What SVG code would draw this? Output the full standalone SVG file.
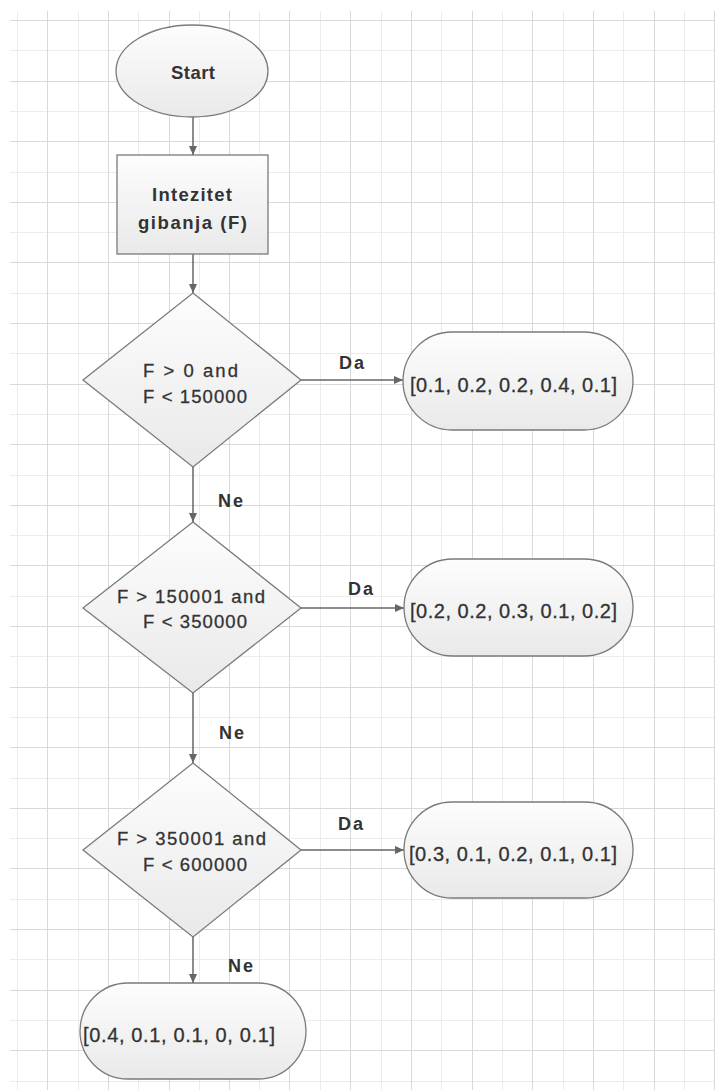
<svg xmlns="http://www.w3.org/2000/svg" width="715" height="1090" viewBox="0 0 715 1090">
<style>
.gM{stroke:#d9d9d9;stroke-width:1}
.gm{stroke:#ececec;stroke-width:1}
.shape{fill:url(#fillG);stroke:#7a7a7a;stroke-width:1.3}
.conn{stroke:#666;stroke-width:1.5;fill:none;marker-end:url(#arrow)}
text{font-family:"Liberation Sans",Arial,sans-serif;fill:#333}
.t{font-size:18.5px;stroke:#333;stroke-width:0.3}
.tb{font-size:18.5px;font-weight:bold}
.v{font-size:20px;stroke:#333;stroke-width:0.3}
.lbl{font-size:18px;font-weight:bold}
</style>
<defs>
<linearGradient id="fillG" x1="0" y1="0" x2="0" y2="1">
<stop offset="0" stop-color="#fdfdfd"/>
<stop offset="1" stop-color="#e9e9e9"/>
</linearGradient>
<marker id="arrow" markerUnits="userSpaceOnUse" markerWidth="9" markerHeight="8" refX="9" refY="4" orient="auto">
<path d="M0,0 L9,4 L0,8 z" fill="#666"/>
</marker>
</defs>
<rect width="715" height="1090" fill="#fff"/>
<g id="grid">
<g class="gm">
<line x1="17.5" y1="11" x2="17.5" y2="1090"/>
<line x1="78.5" y1="11" x2="78.5" y2="1090"/>
<line x1="138.5" y1="11" x2="138.5" y2="1090"/>
<line x1="199.5" y1="11" x2="199.5" y2="1090"/>
<line x1="259.5" y1="11" x2="259.5" y2="1090"/>
<line x1="320.5" y1="11" x2="320.5" y2="1090"/>
<line x1="381.5" y1="11" x2="381.5" y2="1090"/>
<line x1="441.5" y1="11" x2="441.5" y2="1090"/>
<line x1="502.5" y1="11" x2="502.5" y2="1090"/>
<line x1="563.5" y1="11" x2="563.5" y2="1090"/>
<line x1="623.5" y1="11" x2="623.5" y2="1090"/>
<line x1="684.5" y1="11" x2="684.5" y2="1090"/>
<line x1="10" y1="50.5" x2="715" y2="50.5"/>
<line x1="10" y1="111.5" x2="715" y2="111.5"/>
<line x1="10" y1="172.5" x2="715" y2="172.5"/>
<line x1="10" y1="232.5" x2="715" y2="232.5"/>
<line x1="10" y1="293.5" x2="715" y2="293.5"/>
<line x1="10" y1="353.5" x2="715" y2="353.5"/>
<line x1="10" y1="414.5" x2="715" y2="414.5"/>
<line x1="10" y1="475.5" x2="715" y2="475.5"/>
<line x1="10" y1="535.5" x2="715" y2="535.5"/>
<line x1="10" y1="596.5" x2="715" y2="596.5"/>
<line x1="10" y1="656.5" x2="715" y2="656.5"/>
<line x1="10" y1="717.5" x2="715" y2="717.5"/>
<line x1="10" y1="778.5" x2="715" y2="778.5"/>
<line x1="10" y1="838.5" x2="715" y2="838.5"/>
<line x1="10" y1="899.5" x2="715" y2="899.5"/>
<line x1="10" y1="959.5" x2="715" y2="959.5"/>
<line x1="10" y1="1020.5" x2="715" y2="1020.5"/>
<line x1="10" y1="1081.5" x2="715" y2="1081.5"/>
</g>
<g class="gM">
<line x1="47.5" y1="11" x2="47.5" y2="1090"/>
<line x1="108.5" y1="11" x2="108.5" y2="1090"/>
<line x1="169.5" y1="11" x2="169.5" y2="1090"/>
<line x1="229.5" y1="11" x2="229.5" y2="1090"/>
<line x1="289.5" y1="11" x2="289.5" y2="1090"/>
<line x1="350.5" y1="11" x2="350.5" y2="1090"/>
<line x1="411.5" y1="11" x2="411.5" y2="1090"/>
<line x1="472.5" y1="11" x2="472.5" y2="1090"/>
<line x1="532.5" y1="11" x2="532.5" y2="1090"/>
<line x1="593.5" y1="11" x2="593.5" y2="1090"/>
<line x1="654.5" y1="11" x2="654.5" y2="1090"/>
<line x1="714.5" y1="11" x2="714.5" y2="1090"/>
<line x1="10" y1="20.5" x2="715" y2="20.5"/>
<line x1="10" y1="81.5" x2="715" y2="81.5"/>
<line x1="10" y1="141.5" x2="715" y2="141.5"/>
<line x1="10" y1="202.5" x2="715" y2="202.5"/>
<line x1="10" y1="262.5" x2="715" y2="262.5"/>
<line x1="10" y1="323.5" x2="715" y2="323.5"/>
<line x1="10" y1="384.5" x2="715" y2="384.5"/>
<line x1="10" y1="444.5" x2="715" y2="444.5"/>
<line x1="10" y1="505.5" x2="715" y2="505.5"/>
<line x1="10" y1="565.5" x2="715" y2="565.5"/>
<line x1="10" y1="626.5" x2="715" y2="626.5"/>
<line x1="10" y1="687.5" x2="715" y2="687.5"/>
<line x1="10" y1="747.5" x2="715" y2="747.5"/>
<line x1="10" y1="808.5" x2="715" y2="808.5"/>
<line x1="10" y1="868.5" x2="715" y2="868.5"/>
<line x1="10" y1="929.5" x2="715" y2="929.5"/>
<line x1="10" y1="990.5" x2="715" y2="990.5"/>
<line x1="10" y1="1050.5" x2="715" y2="1050.5"/>
</g>
</g>
<g id="connectors">
<line class="conn" x1="193" y1="117" x2="193" y2="155"/>
<line class="conn" x1="193" y1="254" x2="193" y2="293"/>
<line class="conn" x1="301" y1="380" x2="403" y2="380"/>
<line class="conn" x1="193" y1="467" x2="193" y2="522"/>
<line class="conn" x1="301" y1="608" x2="404" y2="608"/>
<line class="conn" x1="193" y1="693" x2="193" y2="763"/>
<line class="conn" x1="301" y1="850" x2="404" y2="850"/>
<line class="conn" x1="193" y1="937" x2="193" y2="983"/>
<text class="lbl" x="339" y="369" textLength="25" lengthAdjust="spacing">Da</text>
<text class="lbl" x="348" y="595" textLength="25" lengthAdjust="spacing">Da</text>
<text class="lbl" x="338" y="830" textLength="25" lengthAdjust="spacing">Da</text>
<text class="lbl" x="218" y="507" textLength="25" lengthAdjust="spacing">Ne</text>
<text class="lbl" x="219" y="739" textLength="25" lengthAdjust="spacing">Ne</text>
<text class="lbl" x="228" y="972" textLength="25" lengthAdjust="spacing">Ne</text>
</g>
<g id="start">
<ellipse class="shape" cx="192" cy="71" rx="76" ry="46"/>
<text class="tb" x="171" y="79" font-size="19" textLength="44" lengthAdjust="spacing">Start</text>
</g>
<g id="input">
<rect class="shape" x="117" y="155" width="151" height="99"/>
<text class="tb" x="152" y="201" textLength="80" lengthAdjust="spacing">Intezitet</text>
<text class="tb" x="138" y="229" textLength="109" lengthAdjust="spacing">gibanja (F)</text>
</g>
<g id="decision1">
<polygon class="shape" points="193,293 301,380 193,467 83,380"/>
<text class="t" x="143" y="377" textLength="95" lengthAdjust="spacing">F &gt; 0 and</text>
<text class="t" x="143" y="403" textLength="104" lengthAdjust="spacing">F &lt; 150000</text>
</g>
<g id="result1">
<rect class="shape" x="403" y="332" width="230" height="98" rx="49" ry="49"/>
<text class="v" x="410" y="392" textLength="207" lengthAdjust="spacing">[0.1, 0.2, 0.2, 0.4, 0.1]</text>
</g>
<g id="decision2">
<polygon class="shape" points="193,522 301,608 193,693 83,608"/>
<text class="t" x="117" y="603" textLength="148" lengthAdjust="spacing">F &gt; 150001 and</text>
<text class="t" x="143" y="628" textLength="104" lengthAdjust="spacing">F &lt; 350000</text>
</g>
<g id="result2">
<rect class="shape" x="404" y="559" width="229" height="97" rx="48.5" ry="48.5"/>
<text class="v" x="410" y="618" textLength="207" lengthAdjust="spacing">[0.2, 0.2, 0.3, 0.1, 0.2]</text>
</g>
<g id="decision3">
<polygon class="shape" points="193,763 301,850 193,937 83,850"/>
<text class="t" x="117" y="845" textLength="149" lengthAdjust="spacing">F &gt; 350001 and</text>
<text class="t" x="143" y="871" textLength="104" lengthAdjust="spacing">F &lt; 600000</text>
</g>
<g id="result3">
<rect class="shape" x="404" y="802" width="229" height="96" rx="48" ry="48"/>
<text class="v" x="409" y="861" textLength="208" lengthAdjust="spacing">[0.3, 0.1, 0.2, 0.1, 0.1]</text>
</g>
<g id="result4">
<rect class="shape" x="80" y="983" width="226" height="96" rx="48" ry="48"/>
<text class="v" x="83" y="1042" textLength="192" lengthAdjust="spacing">[0.4, 0.1, 0.1, 0, 0.1]</text>
</g>
</svg>
